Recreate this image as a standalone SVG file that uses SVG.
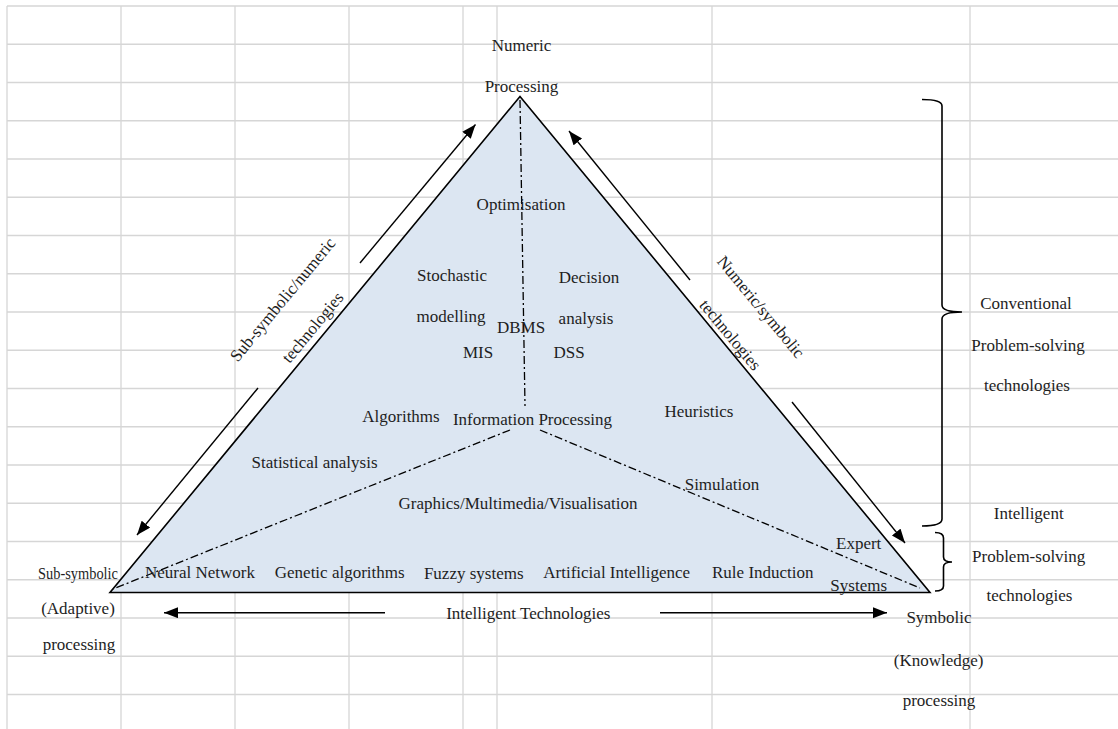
<svg xmlns="http://www.w3.org/2000/svg" width="1118" height="729" viewBox="0 0 1118 729">
  <style>
    .grid line { stroke: #d6d6d6; stroke-width: 1.3; }
    .tri { fill: #dce6f2; stroke: #000; stroke-width: 1.6; stroke-linejoin: miter; }
    .divider { fill: none; stroke: #000; stroke-width: 1.3; stroke-dasharray: 8 3 2 3; }
    .arrow { fill: none; stroke: #000; stroke-width: 1.4; marker-end: url(#head); }
    .brace { fill: none; stroke: #000; stroke-width: 1.6; }
    text { font-family: "Liberation Serif", "Times New Roman", serif; font-size: 17px; fill: #1e1e1e; text-anchor: middle; }
  </style>
  <defs>
    <marker id="head" markerUnits="userSpaceOnUse" markerWidth="15" markerHeight="12" refX="14" refY="5.5" orient="auto">
      <path d="M0,0 L14,5.5 L0,11 Z" fill="#000"/>
    </marker>
  </defs>

  <rect width="1118" height="729" fill="#fff"/>

  <!-- worksheet grid -->
  <g id="grid" class="grid">
    <line x1="7" y1="6" x2="1118" y2="6"/>
    <line x1="7" y1="44.25" x2="1118" y2="44.25"/>
    <line x1="7" y1="82.5" x2="1118" y2="82.5"/>
    <line x1="7" y1="120.75" x2="1118" y2="120.75"/>
    <line x1="7" y1="159" x2="1118" y2="159"/>
    <line x1="7" y1="197.25" x2="1118" y2="197.25"/>
    <line x1="7" y1="235.5" x2="1118" y2="235.5"/>
    <line x1="7" y1="273.75" x2="1118" y2="273.75"/>
    <line x1="7" y1="312" x2="1118" y2="312"/>
    <line x1="7" y1="350.25" x2="1118" y2="350.25"/>
    <line x1="7" y1="388.5" x2="1118" y2="388.5"/>
    <line x1="7" y1="426.75" x2="1118" y2="426.75"/>
    <line x1="7" y1="465" x2="1118" y2="465"/>
    <line x1="7" y1="503.25" x2="1118" y2="503.25"/>
    <line x1="7" y1="541.5" x2="1118" y2="541.5"/>
    <line x1="7" y1="579.75" x2="1118" y2="579.75"/>
    <line x1="7" y1="618" x2="1118" y2="618"/>
    <line x1="7" y1="656.25" x2="1118" y2="656.25"/>
    <line x1="7" y1="694.5" x2="1118" y2="694.5"/>
    <line x1="7" y1="6" x2="7" y2="729"/>
    <line x1="121" y1="6" x2="121" y2="729"/>
    <line x1="235" y1="6" x2="235" y2="729"/>
    <line x1="349" y1="6" x2="349" y2="729"/>
    <line x1="463" y1="6" x2="463" y2="729"/>
    <line x1="497" y1="6" x2="497" y2="729"/>
    <line x1="712" y1="6" x2="712" y2="729"/>
    <line x1="970" y1="6" x2="970" y2="729"/>
  </g>

  <!-- main triangle -->
  <g id="triangle">
    <polygon class="tri" points="520,96.5 930,592.5 110,592.5"/>
  </g>

  <!-- connectors: dividers, direction arrows, braces -->
  <g id="connectors">
    <line class="divider" x1="520" y1="100" x2="525" y2="406"/>
    <line class="divider" x1="510" y1="430" x2="113" y2="589"/>
    <line class="divider" x1="540" y1="430" x2="920" y2="588"/>

    <line class="arrow" x1="360" y1="263" x2="475.5" y2="124.5"/>
    <line class="arrow" x1="258" y1="388" x2="137" y2="535"/>
    <line class="arrow" x1="690" y1="280" x2="569" y2="131"/>
    <line class="arrow" x1="792" y1="402" x2="905" y2="543"/>
    <line class="arrow" x1="385" y1="612.7" x2="164" y2="612.7"/>
    <line class="arrow" x1="660" y1="612.7" x2="887" y2="612.7"/>

    <path class="brace" d="M922,99.5 Q942,99.5 942,106 L942,305 Q942,312 962,312 Q942,312 942,319 L942,519 Q942,526 922,526"/>
    <path class="brace" d="M935,532.5 Q943.5,532.5 943.5,538 L943.5,557 Q943.5,562 952,562 Q943.5,562 943.5,567 L943.5,586 Q943.5,591 935,591"/>
  </g>

  <!-- corner labels -->
  <g id="numeric-processing">
    <text x="521.5" y="51">Numeric</text>
    <text x="521.5" y="92">Processing</text>
  </g>
  <g id="subsymbolic-processing">
    <text x="78" y="579" textLength="80" lengthAdjust="spacingAndGlyphs">Sub-symbolic</text>
    <text x="78" y="613.5">(Adaptive)</text>
    <text x="79" y="650">processing</text>
  </g>
  <g id="symbolic-processing">
    <text x="939" y="622.5">Symbolic</text>
    <text x="938.7" y="665.5">(Knowledge)</text>
    <text x="939" y="705.5">processing</text>
  </g>

  <!-- side labels -->
  <g id="subsymbolic-numeric">
    <text transform="translate(287,303) rotate(-50.4)">Sub-symbolic/numeric</text>
    <text transform="translate(317,331) rotate(-50.4)">technologies</text>
  </g>
  <g id="numeric-symbolic">
    <text transform="translate(756.5,310.5) rotate(50.4)">Numeric/symbolic</text>
    <text transform="translate(726,338.5) rotate(50.4)">technologies</text>
  </g>
  <g id="intelligent-technologies">
    <text x="528.3" y="619.3">Intelligent Technologies</text>
  </g>
  <g id="conventional">
    <text x="1026" y="309.3">Conventional</text>
    <text x="1028" y="351">Problem-solving</text>
    <text x="1027" y="390.7">technologies</text>
  </g>
  <g id="intelligent">
    <text x="1028.7" y="519.3">Intelligent</text>
    <text x="1028.7" y="561.7">Problem-solving</text>
    <text x="1029.5" y="601">technologies</text>
  </g>

  <!-- technologies inside the triangle -->
  <g id="optimisation"><text x="521" y="210">Optimisation</text></g>
  <g id="stochastic-modelling">
    <text x="452" y="281">Stochastic</text>
    <text x="451" y="322">modelling</text>
  </g>
  <g id="decision-analysis">
    <text x="589" y="282.5">Decision</text>
    <text x="586" y="323.5">analysis</text>
  </g>
  <g id="dbms"><text x="521" y="333">DBMS</text></g>
  <g id="mis"><text x="478" y="357.5">MIS</text></g>
  <g id="dss"><text x="569" y="357.5">DSS</text></g>
  <g id="algorithms"><text x="401" y="422">Algorithms</text></g>
  <g id="information-processing"><text x="532.5" y="425">Information Processing</text></g>
  <g id="heuristics"><text x="699" y="416.5">Heuristics</text></g>
  <g id="statistical-analysis"><text x="314.5" y="467.5">Statistical analysis</text></g>
  <g id="simulation"><text x="722" y="490">Simulation</text></g>
  <g id="graphics"><text x="518" y="509.3">Graphics/Multimedia/Visualisation</text></g>
  <g id="expert-systems">
    <text x="858.7" y="549">Expert</text>
    <text x="858.7" y="590.5">Systems</text>
  </g>
  <g id="neural-network"><text x="200" y="578">Neural Network</text></g>
  <g id="genetic-algorithms"><text x="339.7" y="578">Genetic algorithms</text></g>
  <g id="fuzzy-systems"><text x="473.7" y="578.5">Fuzzy systems</text></g>
  <g id="artificial-intelligence"><text x="616.7" y="578">Artificial Intelligence</text></g>
  <g id="rule-induction"><text x="762.8" y="578">Rule Induction</text></g>
</svg>
